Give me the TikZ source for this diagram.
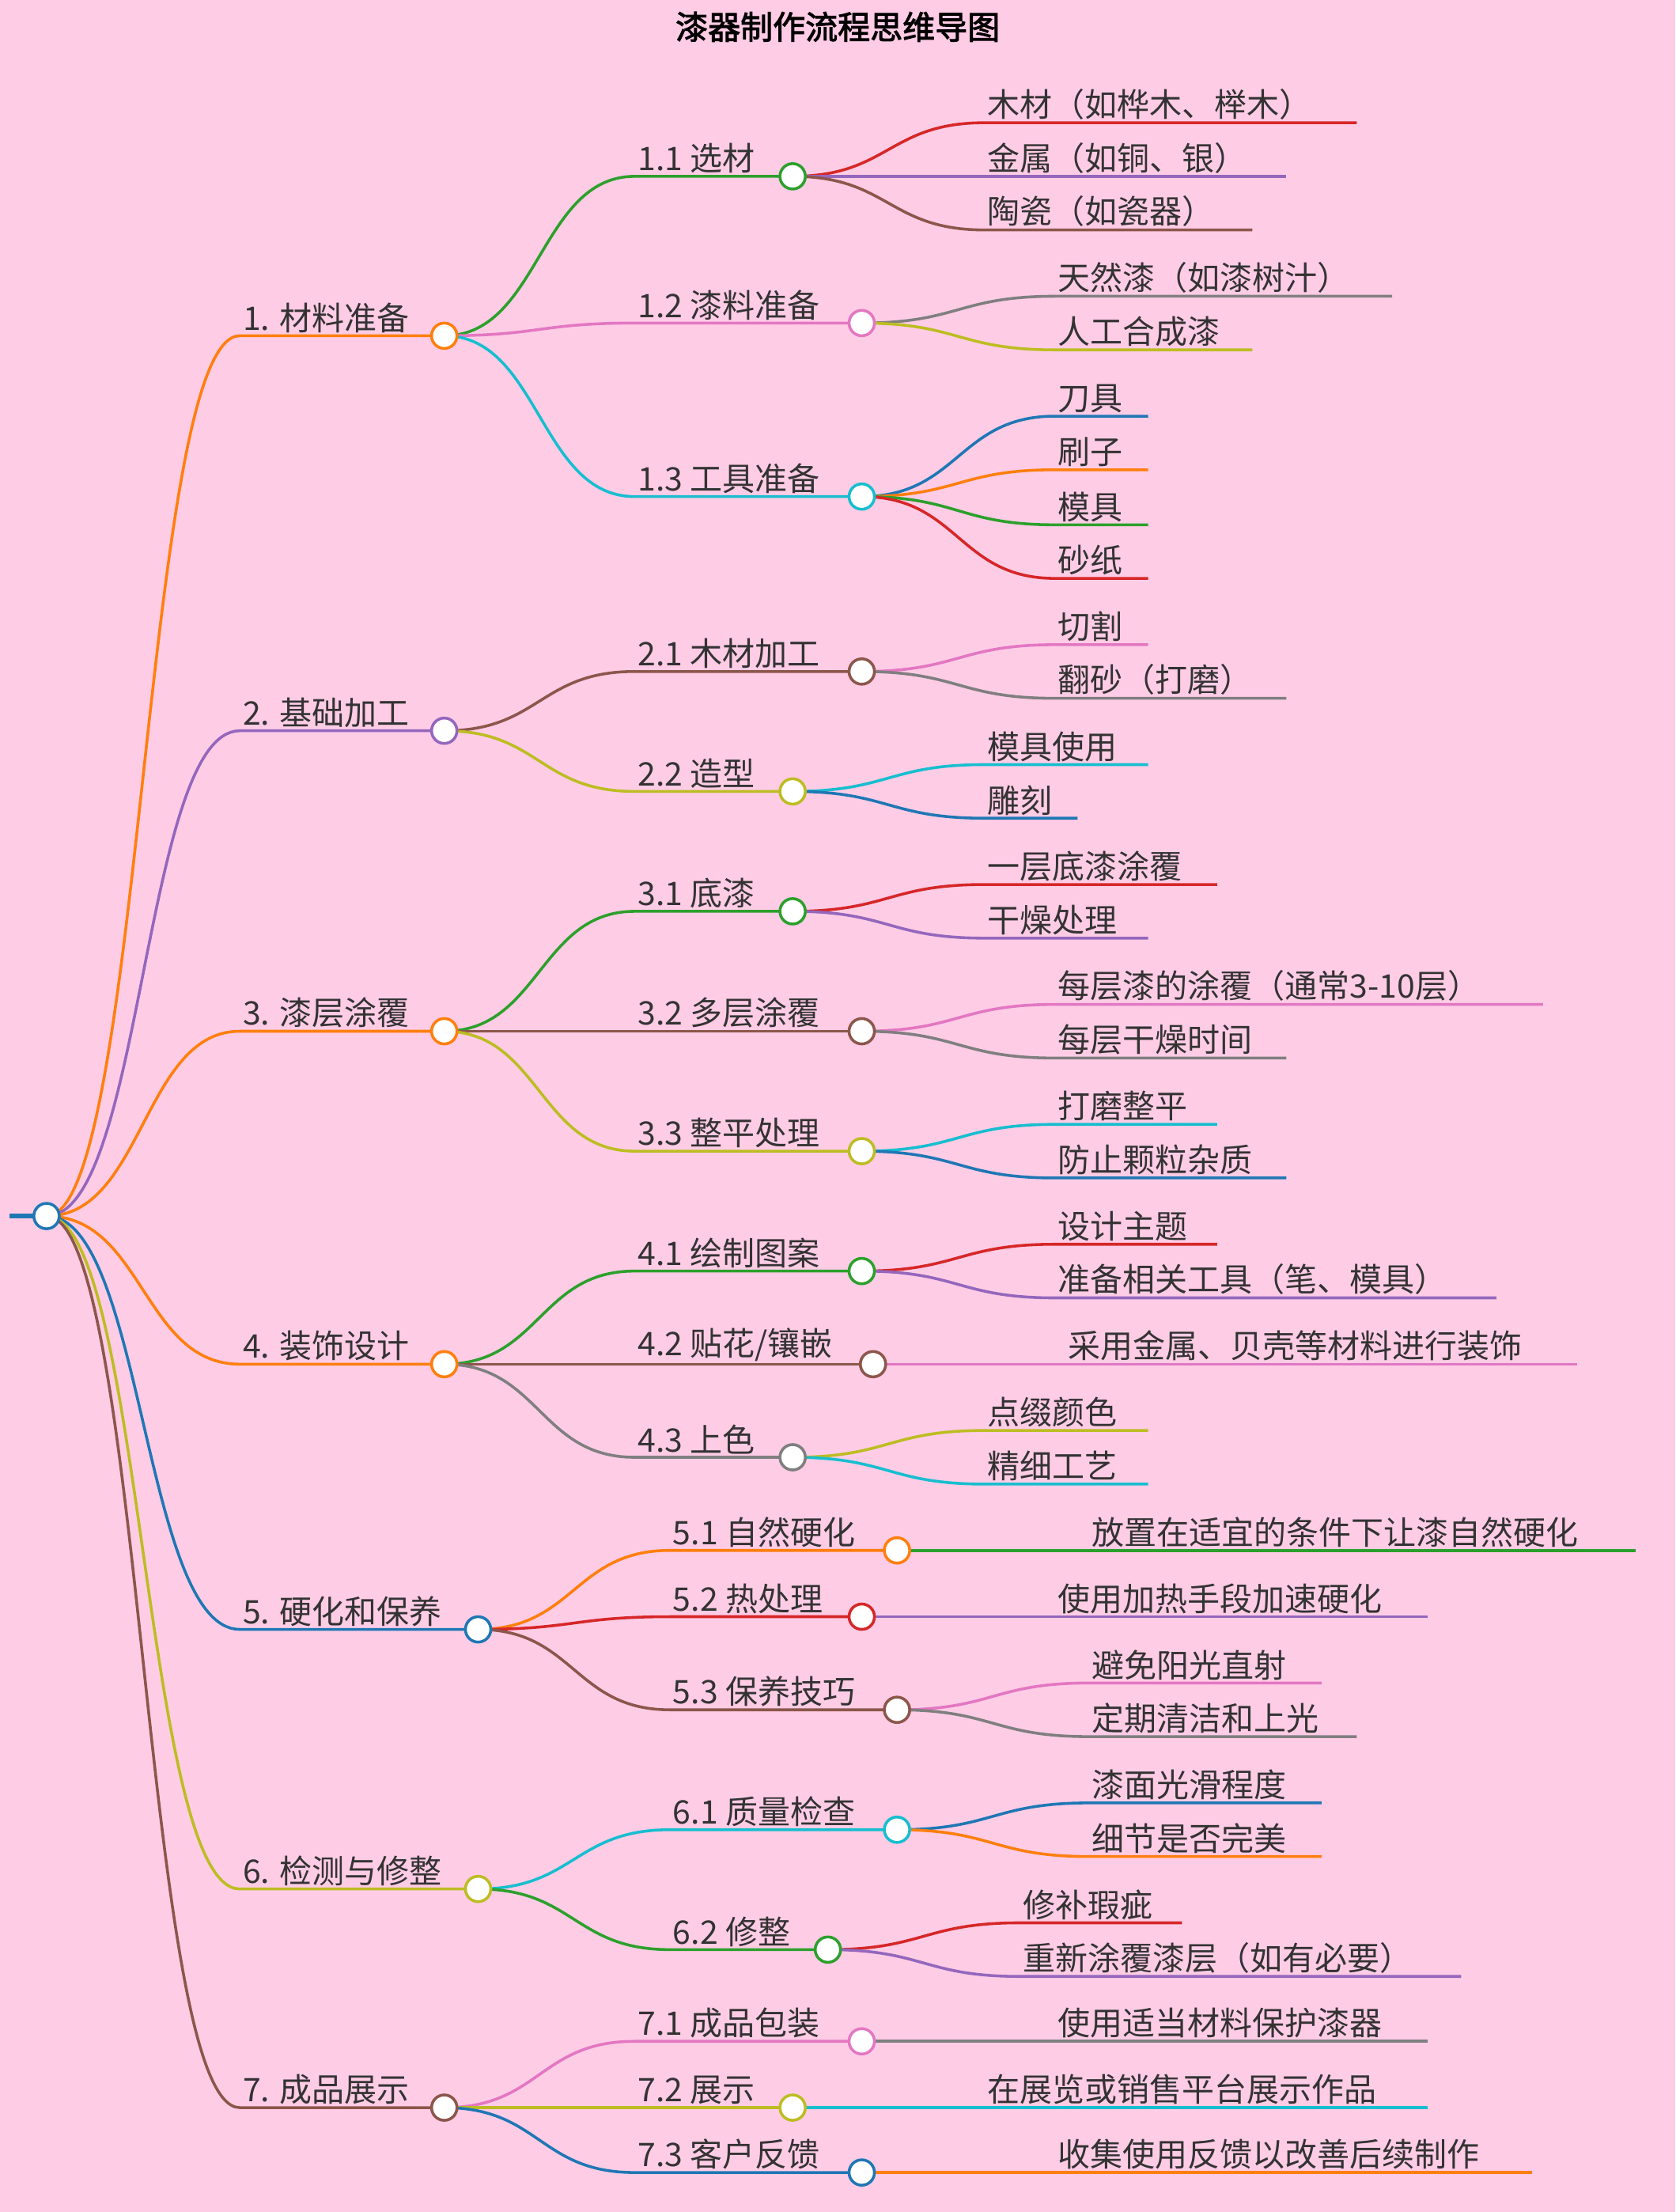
\documentclass[tikz,border=0pt]{standalone}
\usepackage{fontspec}
\setmainfont{Noto Sans CJK SC}
\newfontfamily\titlefont[FakeBold=2.5]{Noto Sans CJK SC}
\usetikzlibrary{calc}
\definecolor{cbl}{HTML}{1F77B4}\definecolor{cor}{HTML}{FF7F0E}\definecolor{cgr}{HTML}{2CA02C}
\definecolor{cre}{HTML}{D62728}\definecolor{cpu}{HTML}{9467BD}\definecolor{cbr}{HTML}{8C564B}
\definecolor{cpi}{HTML}{E377C2}\definecolor{cgy}{HTML}{7F7F7F}\definecolor{col}{HTML}{BCBD22}
\definecolor{ccy}{HTML}{17BECF}\definecolor{bg}{HTML}{FFCCE6}\definecolor{txt}{HTML}{333333}
\tikzset{edge/.style={line width=2pt},
 lbl/.style={text=txt,font=\fontsize{23}{26}\selectfont,inner sep=2pt,anchor=south west},
 dot/.style={circle,draw=#1,fill=white,line width=2pt,minimum size=18pt,inner sep=0pt}}
\newcommand\br[7]{%
 \draw[#1,edge] let \p1=(#2), \p2=(#3,#5) in (\p1) .. controls ({(\x1+\x2)/2},\y1) and ({(\x1+\x2)/2},\y2) .. (\p2) -- (#4,#5) coordinate (#7);
 \node[lbl] (#7t) at (#3,#5) {#6};}
\newcommand\dt[2]{\node[dot=#1] at (#2) {};}
\begin{document}
\begin{tikzpicture}[x=1pt,y=-1pt]
\fill[bg] (0,0) rectangle (1188,1568);
\useasboundingbox (0,0) rectangle (1188,1568);
\node[text=black,font=\titlefont\fontsize{23}{26}\selectfont] (title) at (594,19) {漆器制作流程思维导图};
\coordinate (s) at (7,862);
\coordinate (r) at (33,862);
\draw[cbl,line width=3pt] (s) -- (r);
\br{cor}{r}{170}{315}{238}{1. 材料准备}{a}
\br{cgr}{a}{450}{562}{125}{1.1 选材}{a1}
\br{cre}{a1}{698}{962}{87}{木材（如桦木、榉木）}{a11}
\br{cpu}{a1}{698}{912}{125}{金属（如铜、银）}{a12}
\br{cbr}{a1}{698}{888}{163}{陶瓷（如瓷器）}{a13}
\br{cpi}{a}{450}{611}{229}{1.2 漆料准备}{a2}
\br{cgy}{a2}{748}{987}{210}{天然漆（如漆树汁）}{a21}
\br{col}{a2}{748}{888}{248}{人工合成漆}{a22}
\br{ccy}{a}{450}{611}{352}{1.3 工具准备}{a3}
\br{cbl}{a3}{748}{814}{295}{刀具}{a31}
\br{cor}{a3}{748}{814}{333}{刷子}{a32}
\br{cgr}{a3}{748}{814}{372}{模具}{a33}
\br{cre}{a3}{748}{814}{410}{砂纸}{a34}
\br{cpu}{r}{170}{315}{518}{2. 基础加工}{b}
\br{cbr}{b}{450}{611}{476}{2.1 木材加工}{b1}
\br{cpi}{b1}{748}{814}{457}{切割}{b11}
\br{cgy}{b1}{748}{912}{495}{翻砂（打磨）}{b12}
\br{col}{b}{450}{562}{561}{2.2 造型}{b2}
\br{ccy}{b2}{698}{814}{542}{模具使用}{b21}
\br{cbl}{b2}{698}{764}{580}{雕刻}{b22}
\br{cor}{r}{170}{315}{731}{3. 漆层涂覆}{c}
\br{cgr}{c}{450}{562}{646}{3.1 底漆}{c1}
\br{cre}{c1}{698}{863}{627}{一层底漆涂覆}{c11}
\br{cpu}{c1}{698}{814}{665}{干燥处理}{c12}
\br{cbr}{c}{450}{611}{731}{3.2 多层涂覆}{c2}
\br{cpi}{c2}{748}{1094}{712}{每层漆的涂覆（通常3-10层）}{c21}
\br{cgy}{c2}{748}{912}{750}{每层干燥时间}{c22}
\br{col}{c}{450}{611}{816}{3.3 整平处理}{c3}
\br{ccy}{c3}{748}{863}{797}{打磨整平}{c31}
\br{cbl}{c3}{748}{912}{835}{防止颗粒杂质}{c32}
\br{cor}{r}{170}{315}{967}{4. 装饰设计}{d}
\br{cgr}{d}{450}{611}{901}{4.1 绘制图案}{d1}
\br{cre}{d1}{748}{863}{882}{设计主题}{d11}
\br{cpu}{d1}{748}{1061}{920}{准备相关工具（笔、模具）}{d12}
\br{cbr}{d}{450}{619}{967}{4.2 贴花/镶嵌}{d2}
\br{cpi}{d2}{755}{1118}{967}{采用金属、贝壳等材料进行装饰}{d21}
\br{cgy}{d}{450}{562}{1033}{4.3 上色}{d3}
\br{col}{d3}{698}{814}{1014}{点缀颜色}{d31}
\br{ccy}{d3}{698}{814}{1052}{精细工艺}{d32}
\br{cbl}{r}{170}{339}{1155}{5. 硬化和保养}{e}
\br{cor}{e}{475}{636}{1099}{5.1 自然硬化}{e1}
\br{cgr}{e1}{772}{1160}{1099}{放置在适宜的条件下让漆自然硬化}{e11}
\br{cre}{e}{475}{611}{1146}{5.2 热处理}{e2}
\br{cpu}{e2}{748}{1012}{1146}{使用加热手段加速硬化}{e21}
\br{cbr}{e}{475}{636}{1212}{5.3 保养技巧}{e3}
\br{cpi}{e3}{772}{937}{1193}{避免阳光直射}{e31}
\br{cgy}{e3}{772}{962}{1231}{定期清洁和上光}{e32}
\br{col}{r}{170}{339}{1339}{6. 检测与修整}{f}
\br{ccy}{f}{475}{636}{1297}{6.1 质量检查}{f1}
\br{cbl}{f1}{772}{937}{1278}{漆面光滑程度}{f11}
\br{cor}{f1}{772}{937}{1316}{细节是否完美}{f12}
\br{cgr}{f}{475}{587}{1382}{6.2 修整}{f2}
\br{cre}{f2}{723}{838}{1363}{修补瑕疵}{f21}
\br{cpu}{f2}{723}{1036}{1401}{重新涂覆漆层（如有必要）}{f22}
\br{cbr}{r}{170}{315}{1494}{7. 成品展示}{g}
\br{cpi}{g}{450}{611}{1447}{7.1 成品包装}{g1}
\br{cgy}{g1}{748}{1012}{1447}{使用适当材料保护漆器}{g11}
\br{col}{g}{450}{562}{1494}{7.2 展示}{g2}
\br{ccy}{g2}{698}{1012}{1494}{在展览或销售平台展示作品}{g21}
\br{cbl}{g}{450}{611}{1540}{7.3 客户反馈}{g3}
\br{cor}{g3}{748}{1086}{1540}{收集使用反馈以改善后续制作}{g31}
\dt{cbl}{r}
\dt{cor}{a}\dt{cgr}{a1}\dt{cpi}{a2}\dt{ccy}{a3}
\dt{cpu}{b}\dt{cbr}{b1}\dt{col}{b2}
\dt{cor}{c}\dt{cgr}{c1}\dt{cbr}{c2}\dt{col}{c3}
\dt{cor}{d}\dt{cgr}{d1}\dt{cbr}{d2}\dt{cgy}{d3}
\dt{cbl}{e}\dt{cor}{e1}\dt{cre}{e2}\dt{cbr}{e3}
\dt{col}{f}\dt{ccy}{f1}\dt{cgr}{f2}
\dt{cbr}{g}\dt{cpi}{g1}\dt{col}{g2}\dt{cbl}{g3}
\end{tikzpicture}
\end{document}
